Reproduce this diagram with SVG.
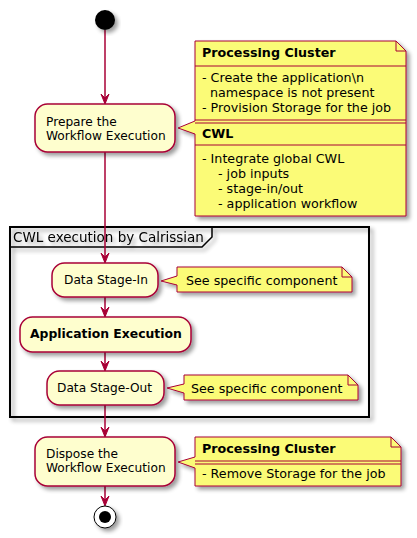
<svg xmlns="http://www.w3.org/2000/svg" width="417" height="538" viewBox="0 0 417 538">
<style>
text{font-family:"DejaVu Sans",sans-serif;font-size:12.2px;fill:#000}
.n{font-size:12.7px}
.b{font-weight:bold}
.act{fill:#FEFECE;stroke:#A80036;stroke-width:1.5}
.note{fill:#FBFB77;stroke:#A80036;stroke-width:1}
.ln{stroke:#A80036;stroke-width:1;fill:none}
.edge{stroke:#A80036;stroke-width:1.5;fill:none}
.head{fill:#A80036;stroke:#A80036;stroke-width:1}
</style>
<defs>
<filter id="sh" x="-20%" y="-20%" width="150%" height="150%">
<feGaussianBlur in="SourceAlpha" stdDeviation="2"/>
<feOffset dx="3" dy="3" result="o"/>
<feComponentTransfer><feFuncA type="linear" slope="0.4"/></feComponentTransfer>
<feMerge><feMergeNode/><feMergeNode in="SourceGraphic"/></feMerge>
</filter>
</defs>
<g id="partition" filter="url(#sh)">
<rect x="10" y="227" width="359" height="190" fill="none" stroke="#000" stroke-width="2"/>
<path d="M10,247 L202,247 L212,237 L212,227" fill="none" stroke="#000" stroke-width="1.5"/>
<text x="13" y="242" style="font-size:13.5px">CWL execution by Calrissian</text>
</g>
<g id="connectors">
<path class="edge" d="M105,30 V103"/>
<polygon class="head" points="101,94 105,104 109,94 105,98"/>
<path class="edge" d="M105,152 V262"/>
<polygon class="head" points="101,253 105,263 109,253 105,257"/>
<path class="edge" d="M105,297 V316"/>
<polygon class="head" points="101,307 105,317 109,307 105,311"/>
<path class="edge" d="M105,352 V370"/>
<polygon class="head" points="101,361 105,371 109,361 105,365"/>
<path class="edge" d="M105,405 V436"/>
<polygon class="head" points="101,427 105,437 109,427 105,431"/>
<path class="edge" d="M105,486 V505"/>
<polygon class="head" points="101,496 105,506 109,496 105,500"/>
</g>
<g id="start" filter="url(#sh)">
<circle cx="105" cy="20" r="10" fill="#000"/>
</g>
<g id="prepare">
<rect class="act" x="35" y="104" width="140" height="48" rx="12.5" filter="url(#sh)"/>
<text x="46" y="126">Prepare the</text>
<text x="46" y="140">Workflow Execution</text>
</g>
<g id="note-prepare">
<path class="note" filter="url(#sh)" d="M195,41 L396,41 L406,51 L406,216 L195,216 L195,134 L178,128 L195,121 Z"/>
<path class="ln" d="M396,41 L396,51 L406,51"/>
<path class="ln" d="M195,66 H406 M195,120 H406 M195,123 H406 M195,145 H406"/>
<text class="n b" x="202" y="57">Processing Cluster</text>
<text class="n" x="202" y="82">- Create the application\n</text>
<text class="n" x="210" y="97">namespace is not present</text>
<text class="n" x="202" y="112">- Provision Storage for the job</text>
<text class="n b" x="202" y="138">CWL</text>
<text class="n" x="202" y="163">- Integrate global CWL</text>
<text class="n" x="218" y="178">- job inputs</text>
<text class="n" x="218" y="193">- stage-in/out</text>
<text class="n" x="218" y="208">- application workflow</text>
</g>
<g id="stagein">
<rect class="act" x="52" y="263" width="106" height="34" rx="12.5" filter="url(#sh)"/>
<text x="64" y="284">Data Stage-In</text>
</g>
<g id="note-stagein">
<path class="note" filter="url(#sh)" d="M177,267 L342,267 L352,277 L352,292 L177,292 L177,285 L161,281 L177,276 Z"/>
<path class="ln" d="M342,267 L342,277 L352,277"/>
<text class="n" x="186" y="285">See specific component</text>
</g>
<g id="appexec">
<rect class="act" x="20" y="317" width="171" height="35" rx="12.5" filter="url(#sh)"/>
<text class="b" x="30" y="338" style="font-size:12.4px">Application Execution</text>
</g>
<g id="stageout">
<rect class="act" x="47" y="371" width="117" height="34" rx="12.5" filter="url(#sh)"/>
<text x="57" y="392">Data Stage-Out</text>
</g>
<g id="note-stageout">
<path class="note" filter="url(#sh)" d="M184,375 L348,375 L358,385 L358,400 L184,400 L184,393 L167,388 L184,384 Z"/>
<path class="ln" d="M348,375 L348,385 L358,385"/>
<text class="n" x="191" y="393">See specific component</text>
</g>
<g id="dispose">
<rect class="act" x="35" y="437" width="140" height="49" rx="12.5" filter="url(#sh)"/>
<text x="46" y="458">Dispose the</text>
<text x="46" y="472">Workflow Execution</text>
</g>
<g id="note-dispose">
<path class="note" filter="url(#sh)" d="M195,437 L391,437 L401,447 L401,486 L195,486 L195,468 L178,462 L195,457 Z"/>
<path class="ln" d="M391,437 L391,447 L401,447"/>
<path class="ln" d="M195,461 H401 M195,464 H401"/>
<text class="n b" x="202" y="453">Processing Cluster</text>
<text class="n" x="202" y="478">- Remove Storage for the job</text>
</g>
<g id="end" filter="url(#sh)">
<circle cx="105" cy="517" r="11" fill="#fff" stroke="#000" stroke-width="1"/>
<circle cx="105" cy="517" r="6" fill="#000"/>
</g>
</svg>
